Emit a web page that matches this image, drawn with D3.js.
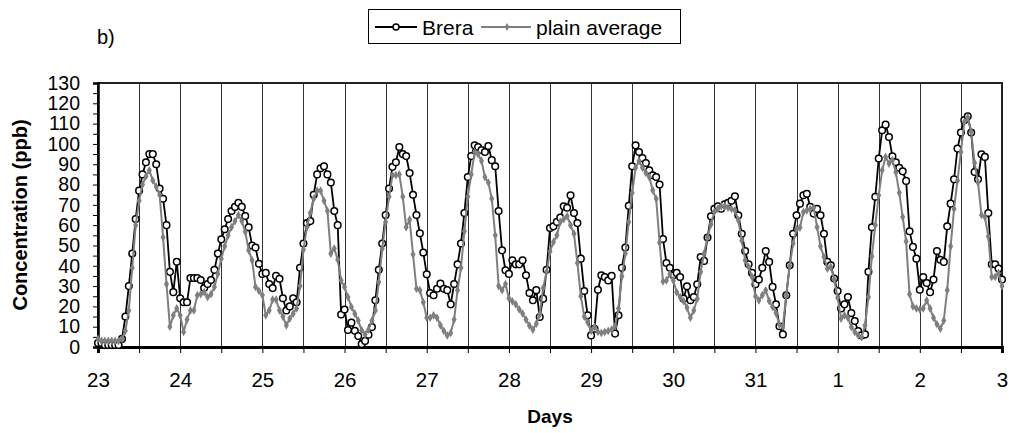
<!DOCTYPE html>
<html>
<head>
<meta charset="utf-8">
<script src="https://cdn.jsdelivr.net/npm/d3@7"></script>
<style>
  body { margin: 0; background: #fff; }
  svg { font-family: "Liberation Sans", Arial, sans-serif; }
</style>
</head>
<body>
<svg id="chart" width="1009" height="433"></svg>
<script>
// hourly values, day 23 00:00 to day 3 00:00
var dayLabels = ["23", "24", "25", "26", "27", "28", "29", "30", "31", "1", "2", "3"];

var brera = [
  2, 2, 1, 1, 1, 1, 1, 4, 15, 30, 46, 63, 77, 85, 91, 95, 95, 90, 78, 73, 60, 37, 27, 42,
  24, 22, 22, 34, 34, 34, 33, 29, 31, 33, 38, 46, 53, 58, 63, 67, 69, 71, 69, 64.5, 59, 50, 49, 41,
  36, 36.5, 31, 29, 35, 33.6, 24, 18, 20, 24, 22, 39, 51, 61, 62, 75, 85, 88, 89, 85, 81, 67, 60, 16,
  18.5, 8.4, 12, 8, 5.4, 1.5, 3, 6, 9.8, 23, 38, 51, 65, 78, 88.7, 91, 98.5, 95, 94, 85.7, 75, 65, 56, 46.5,
  35.8, 26.6, 25.5, 28.7, 31.2, 28.7, 28, 21, 31, 40.7, 51, 66, 83.7, 94, 99.3, 98.5, 97, 96, 99, 92, 89, 67, 47.6, 37.8,
  36, 42.7, 40.7, 40.7, 42.7, 35.3, 26.6, 23, 28, 14.8, 23.8, 38, 58.6, 59.4, 61.6, 63.7, 69.3, 68.6, 74.7, 66, 61, 43.5, 27.6, 15.6,
  5.7, 9, 28.2, 35.3, 34.5, 32.8, 35, 6.6, 15.6, 39, 49, 69.5, 89, 99.3, 96, 93, 90.6, 87, 84.6, 83.7, 80, 53.2, 41.4, 39,
  35.3, 36.5, 34.5, 23.8, 29.9, 23, 24.6, 30.9, 44.3, 42.4, 53.9, 64.4, 68.1, 69.3, 68.1, 70.3, 71, 72, 74.2, 64.9, 55.8, 47.3, 40.7, 36.5,
  30.9, 33.2, 39, 47.3, 41.9, 29.6, 21, 10.2, 6.2, 25.5, 40.2, 55.8, 64.9, 70.6, 74.7, 75.5, 69, 65.7, 68, 64.9, 55.8, 41.9, 40.2, 33.7,
  27.6, 19, 21, 24.6, 16.7, 12.8, 7.9, 5.7, 6.2, 37, 59, 74, 92.8, 106.7, 109.5, 103.4, 93.9, 91, 88.3, 86.5, 81.8, 57, 49.3, 43.5,
  28.2, 34.5, 31.5, 27, 33.2, 47.3, 43, 41.9, 59.4, 70.6, 82.6, 97.7, 105.6, 111.7, 113.6, 105.6, 86.2, 82.6, 94.9, 93.6, 66, 40.7, 40.7, 38.6,
  33.2
];

var plainAverage = [
  4, 3, 3, 3, 3, 3, 3, 4, 8, 18, 39, 60, 72, 80, 84, 87, 82, 79, 75, 54, 31, 10, 15.6, 19,
  15.6, 7.4, 13.5, 18, 18, 25.5, 26, 27, 24.6, 26, 29.6, 36, 43.5, 49.6, 55, 59, 62, 65, 62, 56.7, 47.6, 42.7, 29.6, 27.6,
  25.5, 15.6, 18, 23.3, 23.3, 18, 15, 10.7, 14, 16.4, 19, 30, 48, 59, 66, 73, 77, 77, 72, 67, 46, 48.5, 43, 32.8,
  29.6, 24.6, 19.7, 16.4, 13, 8.2, 6.2, 8.5, 13, 18, 32, 48.4, 61.6, 74, 84.6, 84.6, 85, 74, 59, 62.7, 45.6, 28.7, 28, 22,
  14.4, 14.4, 15.6, 14.4, 10.7, 7.9, 5.7, 6.9, 13.5, 28, 39, 57, 74, 85, 96, 95, 91.6, 83.7, 81, 73, 55, 30, 28, 31,
  24, 22.5, 21, 18.5, 16.5, 13.5, 10.5, 8.5, 11.5, 16, 29, 37, 47, 51.7, 55, 61.6, 63, 64.4, 60, 55.8, 41.4, 25, 15, 12.3,
  7.9, 9.9, 7.4, 6.9, 7.4, 7.9, 8.5, 10.2, 19, 34.8, 46, 61.6, 75.9, 88.3, 91.6, 88.3, 85.7, 83.7, 77.2, 73, 51.4, 32.3, 32.8, 36,
  32.8, 27, 24.6, 22.7, 19.4, 14.4, 18, 23.8, 37, 46, 54, 60.4, 66.5, 68, 69.3, 69.3, 68.6, 68, 67.3, 62.4, 52.5, 42.7, 39.4, 34.5,
  25, 23, 25.5, 27.9, 22.7, 19.7, 16.7, 11, 10, 25.5, 40, 51, 58, 58.8, 66.5, 67.3, 68, 68.6, 59, 49.6, 44.3, 38.6, 39.4, 33.2,
  24.3, 14, 15.6, 14.4, 9.9, 7.4, 5.7, 4.9, 10.7, 24.6, 44.7, 60, 74.7, 87, 93.6, 90.3, 92, 86, 76, 64, 52, 26, 20, 19,
  18.5, 19, 23, 19, 14.4, 11.2, 9, 13, 28, 49.6, 68, 82, 96, 110.8, 113, 106, 90.6, 81, 65, 64, 54.5, 34.5, 34.5, 36.5,
  30
];

var yTicks = d3.range(0, 131, 5);

var svg = d3.select("#chart");
var plotLeft = 98, plotRight = 1002, plotTop = 83, plotBottom = 347;

var x = d3.scaleLinear().domain([0, 264]).range([plotLeft, plotRight]);
var y = d3.scaleLinear().domain([0, 130]).range([plotBottom, plotTop]);

// vertical lines every 12 hours
svg.append("g")
    .selectAll("line")
    .data(d3.range(12, 264, 12))
    .enter()
    .append("line")
    .attr("x1", function(d) { return Math.round(x(d)) + 0.5; })
    .attr("x2", function(d) { return Math.round(x(d)) + 0.5; })
    .attr("y1", plotTop)
    .attr("y2", plotBottom)
    .attr("stroke", "#333")
    .attr("stroke-width", 1);

// frame
svg.append("rect")
    .attr("x", plotLeft)
    .attr("y", plotTop)
    .attr("width", plotRight - plotLeft)
    .attr("height", plotBottom - plotTop)
    .attr("fill", "none")
    .attr("stroke", "#222")
    .attr("stroke-width", 2);

var yAxis = svg.append("g")
    .attr("transform", "translate(" + plotLeft + ",0)")
    .call(d3.axisLeft(y)
        .tickValues(yTicks)
        .tickSize(5)
        .tickPadding(13)
        .tickFormat(function(d) { return d % 10 === 0 ? d : ""; }));
yAxis.select(".domain").attr("stroke", "#000").attr("stroke-width", 2.5);
yAxis.selectAll("line").attr("stroke", "#000");
yAxis.selectAll("text").filter(function(d) { return d % 10 !== 0; }).remove();
yAxis.selectAll("text").attr("font-size", 19.5).attr("fill", "#000").attr("font-family", "Liberation Sans, Arial, sans-serif");

var xAxis = svg.append("g")
    .attr("transform", "translate(0," + plotBottom + ")")
    .call(d3.axisBottom(x)
        .tickValues(d3.range(0, 265, 12))
        .tickSize(6)
        .tickPadding(19)
        .tickFormat(function(h) { return h % 24 === 0 ? dayLabels[h / 24] : ""; }));
xAxis.select(".domain").attr("stroke", "#000").attr("stroke-width", 3);
xAxis.selectAll("line").attr("stroke", "#000");
xAxis.selectAll("text").filter(function(h) { return h % 24 !== 0; }).remove();
xAxis.selectAll("text").attr("font-size", 20.5).attr("fill", "#000").attr("font-family", "Liberation Sans, Arial, sans-serif");

var line = d3.line()
    .x(function(d, i) { return x(i); })
    .y(function(d) { return y(d); });

// Brera
svg.append("path")
    .datum(brera)
    .attr("d", line)
    .attr("fill", "none")
    .attr("stroke", "#000")
    .attr("stroke-width", 1.8);

svg.append("g")
    .selectAll("circle")
    .data(brera)
    .enter()
    .append("circle")
    .attr("cx", function(d, i) { return x(i); })
    .attr("cy", function(d) { return y(d); })
    .attr("r", 3.3)
    .attr("fill", "#fff")
    .attr("stroke", "#000")
    .attr("stroke-width", 1.5);

// plain average
svg.append("path")
    .datum(plainAverage)
    .attr("d", line)
    .attr("fill", "none")
    .attr("stroke", "#7f7f7f")
    .attr("stroke-width", 2);

svg.append("g")
    .selectAll("path")
    .data(plainAverage)
    .enter()
    .append("path")
    .attr("d", d3.symbol().type(d3.symbolDiamond).size(22))
    .attr("transform", function(d, i) { return "translate(" + x(i) + "," + y(d) + ")"; })
    .attr("fill", "#7f7f7f");

// titles
svg.append("text")
    .attr("x", 97)
    .attr("y", 44)
    .attr("font-size", 20)
    .text("b)");

svg.append("text")
    .attr("x", (plotLeft + plotRight) / 2)
    .attr("y", 423)
    .attr("text-anchor", "middle")
    .attr("font-size", 19)
    .attr("font-weight", "bold")
    .text("Days");

svg.append("text")
    .attr("transform", "translate(27," + ((plotTop + plotBottom) / 2) + ") rotate(-90)")
    .attr("text-anchor", "middle")
    .attr("font-size", 20)
    .attr("font-weight", "bold")
    .text("Concentration (ppb)");

// legend
var legend = svg.append("g");
legend.append("rect")
    .attr("x", 368.5).attr("y", 9.5)
    .attr("width", 312).attr("height", 34)
    .attr("fill", "#fff").attr("stroke", "#000").attr("stroke-width", 1);
legend.append("line")
    .attr("x1", 375).attr("x2", 417).attr("y1", 27).attr("y2", 27)
    .attr("stroke", "#000").attr("stroke-width", 1.8);
legend.append("circle")
    .attr("cx", 396).attr("cy", 27).attr("r", 3)
    .attr("fill", "#fff").attr("stroke", "#000").attr("stroke-width", 1.5);
legend.append("text")
    .attr("x", 422).attr("y", 34.5)
    .attr("font-size", 21)
    .text("Brera");
legend.append("line")
    .attr("x1", 481).attr("x2", 531).attr("y1", 27).attr("y2", 27)
    .attr("stroke", "#7f7f7f").attr("stroke-width", 2);
legend.append("path")
    .attr("d", d3.symbol().type(d3.symbolDiamond).size(18))
    .attr("transform", "translate(507,27)")
    .attr("fill", "#7f7f7f");
legend.append("text")
    .attr("x", 536).attr("y", 34.5)
    .attr("font-size", 21)
    .text("plain average");
</script>
</body>
</html>
